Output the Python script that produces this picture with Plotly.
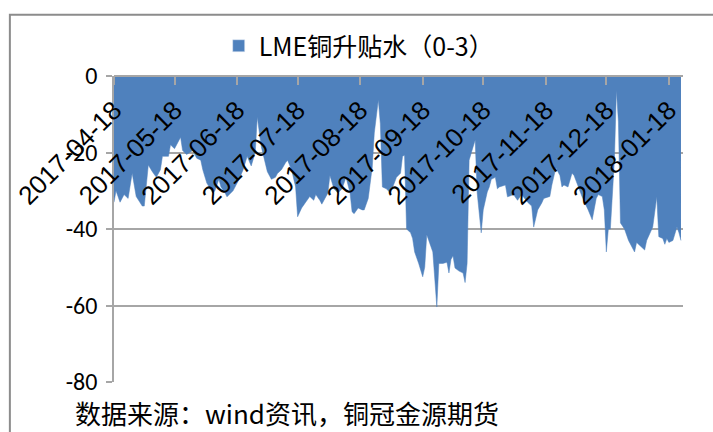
import plotly.graph_objects as go

series_name = "LME铜升贴水（0-3）"
source_text = "数据来源：wind资讯，铜冠金源期货"

dates = [
    "2017-04-18", "2017-04-19", "2017-04-21", "2017-04-23", "2017-04-25", "2017-04-27", "2017-04-29",
    "2017-05-02", "2017-05-03", "2017-05-04", "2017-05-05", "2017-05-07", "2017-05-09", "2017-05-11",
    "2017-05-12", "2017-05-15", "2017-05-16", "2017-05-18", "2017-05-21", "2017-05-22", "2017-05-24",
    "2017-05-27", "2017-05-29", "2017-05-31", "2017-06-01", "2017-06-03", "2017-06-06", "2017-06-07",
    "2017-06-09", "2017-06-10", "2017-06-12", "2017-06-13", "2017-06-16", "2017-06-19", "2017-06-21",
    "2017-06-23", "2017-06-24", "2017-06-25", "2017-06-27", "2017-06-28", "2017-06-30", "2017-07-02",
    "2017-07-03", "2017-07-05", "2017-07-07", "2017-07-08", "2017-07-10", "2017-07-12", "2017-07-13",
    "2017-07-15", "2017-07-17", "2017-07-18", "2017-07-20", "2017-07-22", "2017-07-24", "2017-07-26",
    "2017-07-27", "2017-07-29", "2017-07-30", "2017-08-02", "2017-08-03", "2017-08-05", "2017-08-07",
    "2017-08-09", "2017-08-11", "2017-08-13", "2017-08-14", "2017-08-15", "2017-08-17", "2017-08-19",
    "2017-08-20", "2017-08-22", "2017-08-24", "2017-08-25", "2017-08-27", "2017-08-28", "2017-08-29",
    "2017-08-31", "2017-09-02", "2017-09-05", "2017-09-07", "2017-09-08", "2017-09-09", "2017-09-10",
    "2017-09-12", "2017-09-13", "2017-09-14", "2017-09-16", "2017-09-18", "2017-09-19", "2017-09-20",
    "2017-09-21", "2017-09-23", "2017-09-25", "2017-09-26", "2017-09-28", "2017-09-30", "2017-10-01",
    "2017-10-02", "2017-10-03", "2017-10-04", "2017-10-06", "2017-10-08", "2017-10-09", "2017-10-10",
    "2017-10-11", "2017-10-14", "2017-10-15", "2017-10-17", "2017-10-18", "2017-10-20", "2017-10-21",
    "2017-10-22", "2017-10-24", "2017-10-25", "2017-10-26", "2017-10-29", "2017-10-30", "2017-11-02",
    "2017-11-04", "2017-11-06", "2017-11-09", "2017-11-11", "2017-11-12", "2017-11-14", "2017-11-16",
    "2017-11-17", "2017-11-20", "2017-11-21", "2017-11-23", "2017-11-25", "2017-11-26", "2017-11-27",
    "2017-11-29", "2017-12-01", "2017-12-02", "2017-12-04", "2017-12-06", "2017-12-09", "2017-12-11",
    "2017-12-13", "2017-12-14", "2017-12-16", "2017-12-17", "2017-12-18", "2017-12-19", "2017-12-20",
    "2017-12-21", "2017-12-22", "2017-12-23", "2017-12-24", "2017-12-25", "2017-12-27", "2017-12-29",
    "2018-01-01", "2018-01-02", "2018-01-04", "2018-01-06", "2018-01-07", "2018-01-10", "2018-01-12",
    "2018-01-13", "2018-01-15", "2018-01-16", "2018-01-17", "2018-01-18", "2018-01-20", "2018-01-22",
    "2018-01-23", "2018-01-24",
]

values = [
    -33, -30, -33, -31, -32, -25.4, -31.5,
    -34, -34, -28, -23.3, -25, -26.5, -24.5,
    -21, -21, -18, -19, -16, -19.5, -20.5,
    -19.5, -21.5, -22, -24.5, -28, -30.6, -30,
    -27, -29, -30.5, -31.6, -30, -27, -24.5,
    -21, -22.5, -23.5, -20, -10.7, -18.5, -22.7,
    -25, -27, -26.5, -25.5, -24.5, -22.7, -22,
    -24.5, -29, -36.8, -34.5, -33, -31.5, -32.5,
    -31, -32.5, -33.5, -30.6, -26, -29.5, -30.6,
    -29.5, -26.5, -30.6, -35.5, -36, -34.5, -35,
    -35, -32, -23.8, -14.9, -6.3, -12.5, -29,
    -29.5, -30.6, -26.5, -25.4, -21, -20.7, -40,
    -41, -42.5, -46, -49, -52.5, -50, -41.5,
    -43, -46, -60.4, -49, -49, -48.7, -51.5,
    -48, -47, -50.2, -51, -51.5, -54, -49,
    -22, -16.7, -30.6, -41, -35, -30.3, -29,
    -27, -26.5, -29.5, -29, -28.5, -31.6, -31,
    -32.5, -31, -33, -34, -39.5, -35, -33.2,
    -32, -31.5, -28.5, -24, -26, -29, -28.5,
    -29, -25.4, -26, -29, -31.6, -35, -37.6,
    -32, -31, -31.5, -35, -46, -40, -40,
    -30.6, -22, -3.7, -12, -38.4, -40, -43,
    -46, -43.5, -44.5, -45.5, -43, -39.5, -31.6,
    -42, -42.5, -44, -42.5, -43.5, -43, -39.5,
    -41, -43,
]

tick_dates = ["2017-04-18", "2017-05-18", "2017-06-18", "2017-07-18", "2017-08-18",
              "2017-09-18", "2017-10-18", "2017-11-18", "2017-12-18", "2018-01-18"]
tick_labels = ["2017-04-18", "2017-05-18", "2017-06-18", "2017-07-18", "2017-08-18",
               "2017-09-18", "2017-10-18", "2017-11-18", "2017-12-18", "2018-01-18"]
y_ticks = [0, -20, -40, -60, -80]
y_tick_labels = ["0", "-20", "-40", "-60", "-80"]

BLUE = "#4f81bd"
GRID = "#a6a6a6"
NARROW_FONT = "Liberation Sans Narrow, Carlito, Liberation Sans, sans-serif"
XTICK_FONT = "Liberation Sans, Arial, sans-serif"
CJK_FONT = "Noto Sans CJK SC, sans-serif"

fig = go.Figure()
fig.add_trace(go.Scatter(
    x=dates, y=values, mode="lines", fill="tozeroy",
    line=dict(color=BLUE, width=0.5), fillcolor=BLUE,
    showlegend=False, hoverinfo="x+y",
))
# legend entry (square swatch)
fig.add_trace(go.Bar(x=[None], y=[None], name=series_name,
                     marker=dict(color=BLUE), showlegend=True))

fig.update_layout(
    width=713, height=432,
    margin=dict(l=114, r=30, t=76, b=50),
    paper_bgcolor="white", plot_bgcolor="white",
    showlegend=True,
    legend=dict(
        x=0.184, y=1.098, xanchor="left", yanchor="middle",
        font=dict(family=CJK_FONT, size=25, color="#000000"),
        bgcolor="rgba(0,0,0,0)",
    ),
    xaxis=dict(
        type="date",
        range=["2017-04-18", "2018-01-25"],
        tickmode="array", tickvals=tick_dates, ticktext=tick_labels,
        tickangle=-45,
        tickfont=dict(family=XTICK_FONT, size=26, color="#000000"),
        showgrid=False, zeroline=False,
        showline=True, linecolor=GRID, linewidth=1.5,
        ticks="outside", ticklen=8, tickcolor=GRID, tickwidth=1.5,
        anchor="free", position=1, side="bottom",
        ticklabelstandoff=0,
    ),
    yaxis=dict(
        range=[-80, 0],
        tickmode="array", tickvals=y_ticks, ticktext=y_tick_labels,
        tickfont=dict(family=NARROW_FONT, size=24, color="#000000"),
        showgrid=True, gridcolor=GRID, gridwidth=1.5,
        zeroline=False,
        showline=True, linecolor=GRID, linewidth=1.5,
        ticks="outside", ticklen=6, tickcolor=GRID, tickwidth=1.5,
        ticklabelstandoff=4,
    ),
    annotations=[dict(
        text=source_text, xref="paper", yref="paper",
        x=-0.072, y=-0.101, xanchor="left", yanchor="middle",
        showarrow=False,
        font=dict(family=CJK_FONT, size=26, color="#000000"),
    )],
    shapes=[dict(
        type="rect", xref="paper", yref="paper",
        x0=-0.183, x1=1.5, y0=-0.6, y1=1.2,
        line=dict(color="#8c8c8c", width=2), fillcolor="rgba(0,0,0,0)",
        layer="below",
    )],
)

fig.write_html("out.html")
